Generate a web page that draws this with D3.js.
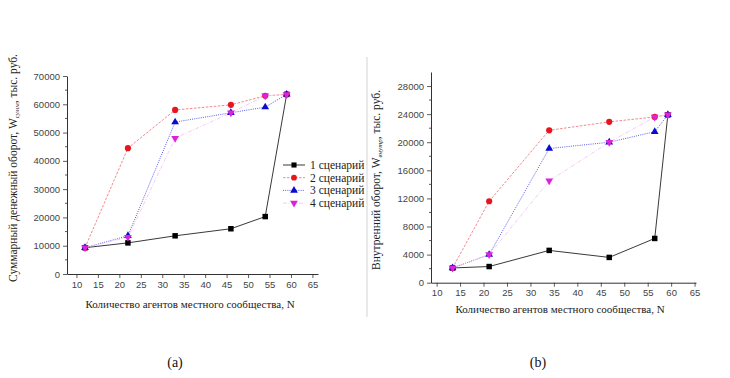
<!DOCTYPE html>
<html><head><meta charset="utf-8">
<script src="https://cdn.jsdelivr.net/npm/d3@7"></script>
<style>body{margin:0;background:#fff}svg{display:block}</style>
</head><body>
<script>
// ---- data ----
const xLeft = [12, 22, 33, 46, 54, 59];
const xRight = [13.4, 21.2, 34, 46.8, 56.5, 59.3];
const seriesNames = ["1 сценарий", "2 сценарий", "3 сценарий", "4 сценарий"];
const leftS1 = [9300, 11000, 13500, 16000, 20300, 63500];
const leftS2 = [9300, 44500, 58000, 59800, 63000, 63500];
const leftS3 = [9300, 13500, 53700, 57000, 59000, 63500];
const leftS4 = [9300, 13000, 48000, 57000, 63000, 63500];
const rightS1 = [2100, 2300, 4600, 3600, 6300, 23900];
const rightS2 = [2100, 11600, 21700, 22900, 23600, 23900];
const rightS3 = [2100, 4000, 19100, 20000, 21500, 23900];
const rightS4 = [2100, 4000, 14500, 20000, 23600, 23900];
const xTicks = [10, 15, 20, 25, 30, 35, 40, 45, 50, 55, 60, 65];
const leftYTicks = [0, 10000, 20000, 30000, 40000, 50000, 60000, 70000];
const rightYTicks = [0, 4000, 8000, 12000, 16000, 20000, 24000, 28000];

const W = 730, H = 378;
const svg = d3.select("body").append("svg").attr("width", W).attr("height", H);

const styles = [
  {color: "#000000", line: "#222", dash: null, marker: "square", lw: 0.9},
  {color: "#e8141e", line: "#f07a80", dash: "2.5,1.5", marker: "circle", lw: 0.9},
  {color: "#0a0ad0", line: "#4a4ae8", dash: "1,1.2", marker: "triangle", lw: 0.9},
  {color: "#dd22dd", line: "#f2c6f2", dash: "4,1.5,1,1.5", marker: "triangleDown", lw: 0.9}
];
const symbolMap = {square: d3.symbolSquare, circle: d3.symbolCircle, triangle: d3.symbolTriangle, triangleDown: d3.symbolTriangle};
const serif = "'Liberation Serif', 'Times New Roman', serif";

function panel(o) {
  const g = svg.append("g");
  const x = d3.scaleLinear().domain(o.xDomain).range(o.xRange);
  const y = d3.scaleLinear().domain(o.yDomain).range(o.yRange);
  const ax = d3.axisBottom(x).tickValues(xTicks).tickFormat(d3.format("d")).tickSize(4).tickSizeOuter(0).tickPadding(3);
  const gx = g.append("g").attr("transform", `translate(0,${o.yRange[0]})`).call(ax);
  const ay = d3.axisLeft(y).tickValues(o.yTicks).tickFormat(d3.format("d")).tickSize(4).tickSizeOuter(0).tickPadding(3);
  const gy = g.append("g").attr("transform", `translate(${o.xRange[0]},0)`).call(ay);
  g.append("g").selectAll("line").data(o.yMinor).join("line")
    .attr("x1", o.xRange[0] - 2).attr("x2", o.xRange[0])
    .attr("y1", d => y(d)).attr("y2", d => y(d)).attr("stroke", "#333").attr("stroke-width", 0.8);
  [gx, gy].forEach(a => {
    a.select(".domain").attr("stroke", "#333").attr("stroke-width", 1);
    a.selectAll(".tick line").attr("stroke", "#333").attr("stroke-width", 0.8);
    a.selectAll(".tick text").attr("fill", "#444").style("font-family", "'Liberation Sans', Arial, sans-serif").style("font-size", "9.5px");
  });
  o.series.forEach((vals, i) => {
    const st = styles[i];
    const pts = o.xs.map((xv, j) => [x(xv), y(vals[j])]);
    g.append("path").attr("d", d3.line()(pts)).attr("fill", "none")
      .attr("stroke", st.line).attr("stroke-width", st.lw)
      .attr("stroke-dasharray", st.dash);
  });
  o.series.forEach((vals, i) => {
    const st = styles[i];
    const sz = st.marker === "circle" ? 30 : (st.marker === "square" ? 30 : 26);
    g.append("g").selectAll("path").data(o.xs.map((xv, j) => [xv, vals[j]])).join("path")
      .attr("transform", d => `translate(${x(d[0])},${y(d[1])})` + (st.marker === "triangleDown" ? " rotate(180)" : ""))
      .attr("d", d3.symbol().type(symbolMap[st.marker]).size(sz))
      .attr("fill", st.color);
  });
  g.append("text").attr("x", o.xTitlePos[0]).attr("y", o.xTitlePos[1]).attr("text-anchor", "middle")
    .style("font-family", serif).style("font-size", "11px").attr("fill", "#222").text(o.xTitle);
  const yt = g.append("text").attr("transform", `translate(${o.yTitlePos[0]},${o.yTitlePos[1]}) rotate(-90)`)
    .attr("text-anchor", "middle").style("font-family", serif).style("font-size", "11.5px").attr("fill", "#222");
  yt.append("tspan").text(o.yTitleA);
  yt.append("tspan").text(o.yTitleSub).style("font-size", "7px").style("font-style", "italic").attr("dy", 2);
  yt.append("tspan").text(o.yTitleB).attr("dy", -2);
  g.append("text").attr("x", o.tag[0]).attr("y", o.tag[1]).attr("text-anchor", "middle")
    .style("font-family", serif).style("font-size", "14px").attr("fill", "#111").text(o.tag[2]);
  return {x, y, g};
}

panel({
  xDomain: [7.8, 66.3], xRange: [67, 318],
  yDomain: [0, 70000], yRange: [274, 76],
  yTicks: leftYTicks, yMinor: d3.range(5000, 70000, 10000),
  xs: xLeft, series: [leftS1, leftS2, leftS3, leftS4],
  xTitle: "Количество агентов местного сообщества, N", xTitlePos: [190, 308],
  yTitleA: "Суммарный денежный оборот, W", yTitleSub: "сумм", yTitleB: ", тыс. руб.", yTitlePos: [17, 168],
  tag: [175, 367, "(a)"]
});
panel({
  xDomain: [8.8, 65.3], xRange: [431, 696],
  yDomain: [0, 30000], yRange: [282.7, 72],
  yTicks: rightYTicks, yMinor: d3.range(2000, 30000, 4000),
  xs: xRight, series: [rightS1, rightS2, rightS3, rightS4],
  xTitle: "Количество агентов местного сообщества, N", xTitlePos: [560, 313],
  yTitleA: "Внутренний оборот, W", yTitleSub: "внутр", yTitleB: ", тыс. руб.", yTitlePos: [380, 180],
  tag: [538, 367, "(b)"]
});

const lg = svg.append("g");
seriesNames.forEach((name, i) => {
  const st = styles[i];
  const yy = 165 + i * 12.7;
  lg.append("line").attr("x1", 283).attr("x2", 305).attr("y1", yy).attr("y2", yy)
    .attr("stroke", st.line).attr("stroke-width", st.lw).attr("stroke-dasharray", st.dash);
  lg.append("path").attr("transform", `translate(294,${yy})` + (st.marker === "triangleDown" ? " rotate(180)" : ""))
    .attr("d", d3.symbol().type(symbolMap[st.marker]).size(26)).attr("fill", st.color);
  lg.append("text").attr("x", 310).attr("y", yy + 4).style("font-family", serif)
    .style("font-size", "11.5px").attr("fill", "#222").text(name);
});

svg.append("line").attr("x1", 367).attr("x2", 367).attr("y1", 57).attr("y2", 317)
  .attr("stroke", "#c8c8c8").attr("stroke-width", 0.8);
</script>
</body></html>
